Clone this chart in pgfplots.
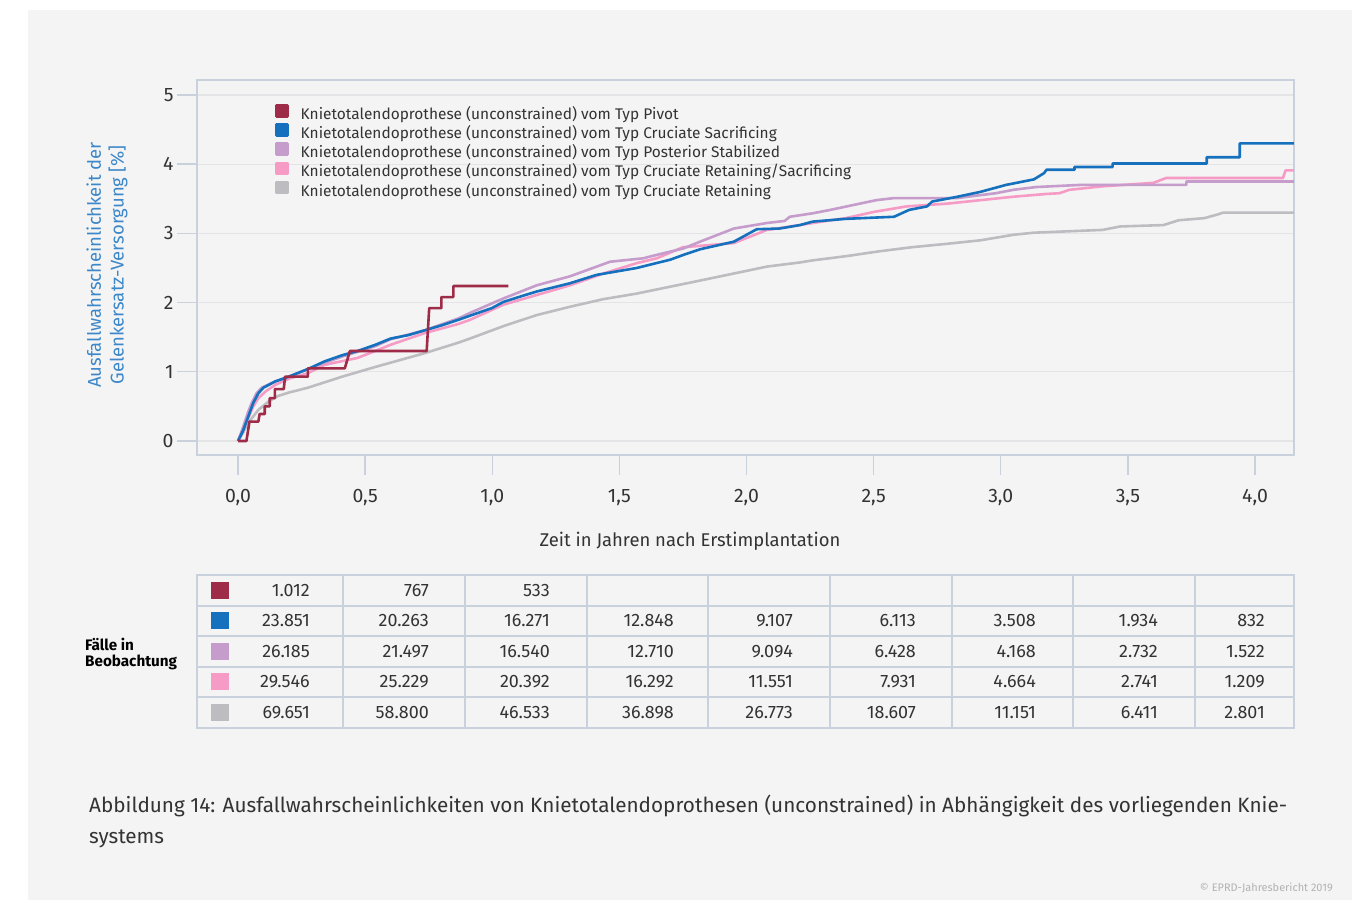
\documentclass[border=0pt]{standalone}
\usepackage{fontspec}
\setmainfont{Fira Sans}
\usepackage{pgfplots}
\usepackage{pgfplotstable}
\pgfplotsset{compat=1.18}
\definecolor{bg}{HTML}{F4F4F4}
\definecolor{framec}{HTML}{C9D1DC}
\definecolor{gridc}{HTML}{E4E4E6}
\definecolor{txt}{HTML}{333333}
\definecolor{cPivot}{HTML}{9E2B47}
\definecolor{cCS}{HTML}{1570BD}
\definecolor{cPS}{HTML}{C59CCB}
\definecolor{cCRS}{HTML}{F59BC6}
\definecolor{cCR}{HTML}{BDBDC1}
\definecolor{ylab}{HTML}{3B87C9}

\pgfplotstableread{
x y
0 0
0.033 0
0.04 0.16
0.045 0.28
0.08 0.28
0.085 0.39
0.105 0.39
0.105 0.50
0.125 0.50
0.125 0.62
0.145 0.62
0.145 0.75
0.18 0.75
0.185 0.93
0.275 0.93
0.275 1.05
0.42 1.05
0.44 1.30
0.742 1.30
0.752 1.92
0.80 1.92
0.80 2.08
0.847 2.08
0.847 2.24
1.063 2.24
}\tpivot

\pgfplotstableread{
x y
0 0
0.02 0.15
0.04 0.35
0.06 0.55
0.08 0.69
0.1 0.77
0.146 0.86
0.2 0.93
0.275 1.04
0.34 1.15
0.41 1.24
0.47 1.30
0.54 1.39
0.60 1.48
0.67 1.53
0.735 1.60
0.80 1.67
0.866 1.75
0.912 1.81
0.998 1.92
1.044 2.01
1.13 2.11
1.175 2.16
1.306 2.28
1.41 2.40
1.568 2.50
1.70 2.62
1.76 2.70
1.817 2.77
1.95 2.88
2.04 3.06
2.13 3.07
2.21 3.12
2.26 3.17
2.39 3.21
2.58 3.24
2.64 3.34
2.71 3.39
2.73 3.46
2.83 3.53
2.92 3.60
3.02 3.70
3.13 3.78
3.17 3.87
3.18 3.92
3.29 3.92
3.29 3.96
3.44 3.96
3.44 4.01
3.81 4.01
3.81 4.10
3.94 4.10
3.94 4.30
4.153 4.30
}\tcs

\pgfplotstableread{
x y
0 0
0.02 0.2
0.04 0.42
0.054 0.55
0.073 0.69
0.093 0.77
0.146 0.86
0.2 0.93
0.275 1.04
0.34 1.13
0.41 1.22
0.54 1.37
0.60 1.47
0.735 1.60
0.866 1.77
0.912 1.85
1.044 2.06
1.175 2.25
1.306 2.38
1.463 2.59
1.594 2.64
1.647 2.69
1.75 2.78
1.817 2.88
1.95 3.07
2.08 3.15
2.15 3.18
2.17 3.24
2.26 3.29
2.33 3.34
2.42 3.41
2.51 3.48
2.58 3.51
2.83 3.51
2.87 3.53
2.98 3.58
3.05 3.63
3.14 3.67
3.31 3.70
3.73 3.70
3.73 3.75
4.153 3.75
}\tps

\pgfplotstableread{
x y
0 0
0.02 0.15
0.04 0.33
0.06 0.50
0.08 0.62
0.11 0.72
0.146 0.81
0.2 0.90
0.275 0.98
0.34 1.10
0.47 1.20
0.60 1.39
0.735 1.56
0.866 1.69
0.912 1.75
1.044 1.97
1.175 2.11
1.306 2.25
1.437 2.42
1.568 2.57
1.647 2.64
1.75 2.80
1.817 2.82
1.95 2.86
2.08 3.05
2.21 3.12
2.26 3.15
2.39 3.22
2.50 3.31
2.63 3.39
2.79 3.43
2.92 3.48
3.05 3.53
3.18 3.57
3.23 3.58
3.27 3.63
3.40 3.68
3.60 3.73
3.65 3.80
4.11 3.80
4.12 3.91
4.153 3.91
}\tcrs

\pgfplotstableread{
x y
0 0
0.02 0.12
0.04 0.26
0.08 0.45
0.12 0.57
0.157 0.65
0.2 0.70
0.275 0.77
0.41 0.93
0.54 1.07
0.735 1.27
0.866 1.42
0.912 1.48
1.044 1.66
1.175 1.82
1.306 1.94
1.437 2.05
1.568 2.13
1.70 2.23
1.78 2.29
1.95 2.42
2.08 2.52
2.21 2.58
2.26 2.61
2.39 2.67
2.52 2.74
2.65 2.80
2.79 2.85
2.92 2.90
3.05 2.98
3.13 3.01
3.40 3.05
3.47 3.10
3.64 3.12
3.70 3.19
3.80 3.22
3.85 3.27
3.875 3.30
4.153 3.30
}\tcr

\begin{document}
\begin{tikzpicture}[x=1bp,y=1bp]
\fill[white] (0,0) rectangle (1367,900);
\fill[bg] (28,0) rectangle (1352,890);
\begin{axis}[
  at={(197bp,445bp)}, anchor=south west,
  width=1097bp, height=375bp, scale only axis,
  xmin=-0.1613, xmax=4.1534, ymin=-0.2023, ymax=5.2168,
  xtick={0,0.5,1,1.5,2,2.5,3,3.5,4},
  xticklabels={{0,0},{0,5},{1,0},{1,5},{2,0},{2,5},{3,0},{3,5},{4,0}},
  ytick={0,1,2,3,4,5},
  yticklabels={0,1,2,3,4,5},
  tick align=outside, major tick length=20bp, tick pos=left,
  tick style={draw=framec, line width=1.4bp},
  axis line style={draw=framec, line width=1.6bp},
  ymajorgrids, grid style={draw=gridc, line width=1.2bp},
  ticklabel style={font=\fontsize{19.5}{21}\selectfont, text=txt},
  xticklabel style={yshift=-11bp},
  reverse legend,
  legend cell align=left,
  legend style={at={(rel axis cs:0.0711,0.936)}, anchor=north west,
    draw=none, fill=none, inner sep=0pt, outer sep=0pt,
    font=\fontsize{15.5}{17}\selectfont, text=txt,
    row sep=0.9bp, column sep=12bp,
    nodes={inner sep=0pt, text height=10bp, text depth=3bp}},
]
\addplot[cCR, line width=2.6bp, line join=round,
  legend image code/.code={\fill[cCR] (0bp,-0.5bp) rectangle (11bp,10.5bp);}] table {\tcr};
\addlegendentry{Knietotalendoprothese (unconstrained) vom Typ Cruciate Retaining}
\addplot[cCRS, line width=2.6bp, line join=round,
  legend image code/.code={\fill[cCRS] (0bp,-0.5bp) rectangle (11bp,10.5bp);}] table {\tcrs};
\addlegendentry{Knietotalendoprothese (unconstrained) vom Typ Cruciate Retaining/Sacrificing}
\addplot[cPS, line width=2.6bp, line join=round,
  legend image code/.code={\fill[cPS] (0bp,-0.5bp) rectangle (11bp,10.5bp);}] table {\tps};
\addlegendentry{Knietotalendoprothese (unconstrained) vom Typ Posterior Stabilized}
\addplot[cCS, line width=2.6bp, line join=round,
  legend image code/.code={\fill[cCS] (0bp,-0.5bp) rectangle (11bp,10.5bp);}] table {\tcs};
\addlegendentry{Knietotalendoprothese (unconstrained) vom Typ Cruciate Sacrificing}
\addplot[cPivot, line width=2.6bp, line join=round,
  legend image code/.code={\fill[cPivot] (0bp,-0.5bp) rectangle (11bp,10.5bp);}] table {\tpivot};
\addlegendentry{Knietotalendoprothese (unconstrained) vom Typ Pivot}
\end{axis}

% axis titles
\node[rotate=90, align=center, text=ylab, font=\fontsize{18.5}{23}\selectfont] at (107,635)
  {Ausfallwahrscheinlichkeit der\\Gelenkersatz-Versorgung [\%]};
\node[text=txt, font=\fontsize{18.5}{20}\selectfont] at (690,359) {Zeit in Jahren nach Erstimplantation};

% table of cases
\begin{scope}[draw=framec, line width=1.6bp]
  \draw (197,325) rectangle (1294,172);
  \foreach \yy in {294,264,233,203} \draw (197,\yy) -- (1294,\yy);
  \foreach \xx in {343,465,587,708,830,952,1073,1195} \draw (\xx,325) -- (\xx,172);
\end{scope}
\foreach \c/\yy in {cPivot/309.5,cCS/279,cPS/248.5,cCRS/218,cCR/187.5}
  \fill[\c] (211,\yy-8.5) rectangle (229,\yy+8.5);
\tikzset{num/.style={anchor=east, inner sep=0pt, text=txt, font=\fontsize{18}{20}\selectfont}}
\foreach \xx/\v in {310/1.012,429/767,550/533}
  \node[num] at (\xx,309.5) {\v};
\foreach \xx/\v in {310/23.851,429/20.263,550/16.271,674/12.848,793/9.107,916/6.113,1036/3.508,1158/1.934,1265/832}
  \node[num] at (\xx,279) {\v};
\foreach \xx/\v in {310/26.185,429/21.497,550/16.540,674/12.710,793/9.094,916/6.428,1036/4.168,1158/2.732,1265/1.522}
  \node[num] at (\xx,248.5) {\v};
\foreach \xx/\v in {310/29.546,429/25.229,550/20.392,674/16.292,793/11.551,916/7.931,1036/4.664,1158/2.741,1265/1.209}
  \node[num] at (\xx,218) {\v};
\foreach \xx/\v in {310/69.651,429/58.800,550/46.533,674/36.898,793/26.773,916/18.607,1036/11.151,1158/6.411,1265/2.801}
  \node[num] at (\xx,187.5) {\v};
\node[anchor=west, align=left, inner sep=0pt, font=\bfseries\fontsize{15.3}{17}\selectfont, text=black] at (85,246)
  {Fälle in\\Beobachtung};

% caption
\node[anchor=base west, align=left, inner sep=0pt, text=txt, font=\fontsize{20.8}{31}\selectfont] at (89,57)
  {Abbildung 14: Ausfallwahrscheinlichkeiten von Knietotalendoprothesen (unconstrained) in Abhängigkeit des vorliegenden Knie-\\systems};
\node[anchor=base east, inner sep=0pt, text=black!30, font=\fontsize{11}{12}\selectfont] at (1333,9) {© EPRD-Jahresbericht 2019};

\pgfresetboundingbox
\useasboundingbox (0,0) rectangle (1367,900);
\end{tikzpicture}
\end{document}
